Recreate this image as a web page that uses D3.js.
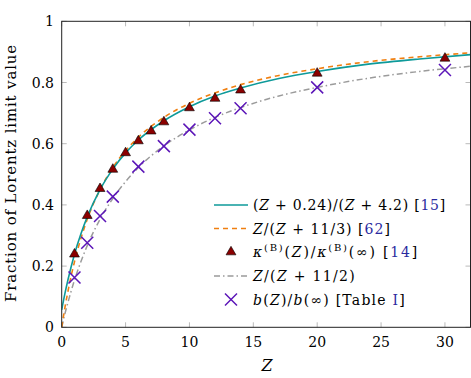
<!DOCTYPE html>
<html>
<head>
<meta charset="utf-8">
<script src="https://cdn.jsdelivr.net/npm/d3@7"></script>
<style>
  body { margin: 0; background: #fff; }
  svg { display: block; font-family: 'DejaVu Serif', 'Liberation Serif', serif; }
</style>
</head>
<body>
<svg id="chart" width="471" height="378"></svg>
<script>
// curve samples
const curveZ = [0, 0.25, 0.5, 1, 1.5, 2, 3, 4, 5, 6, 8, 10, 12, 14, 17, 20, 24, 28, 32];
const tealVals = [0.057, 0.110, 0.157, 0.239, 0.305, 0.361, 0.450, 0.517, 0.570, 0.612, 0.675, 0.721, 0.756, 0.782, 0.813, 0.836, 0.860, 0.877, 0.891];
const orangeVals = [0, 0.064, 0.120, 0.214, 0.290, 0.353, 0.450, 0.522, 0.577, 0.621, 0.686, 0.732, 0.766, 0.793, 0.823, 0.845, 0.868, 0.884, 0.897];
const greyVals = [0, 0.044, 0.083, 0.154, 0.214, 0.267, 0.353, 0.421, 0.476, 0.522, 0.593, 0.645, 0.686, 0.718, 0.756, 0.784, 0.814, 0.836, 0.853];

// markers
const kappaZ = [1, 2, 3, 4, 5, 6, 7, 8, 10, 12, 14, 20, 30];
const kappaVals = [0.239, 0.365, 0.453, 0.516, 0.570, 0.609, 0.641, 0.671, 0.717, 0.748, 0.775, 0.830, 0.879];
const bZ = [1, 2, 3, 4, 6, 8, 10, 12, 14, 20, 30];
const bVals = [0.163, 0.276, 0.364, 0.427, 0.525, 0.592, 0.646, 0.683, 0.716, 0.784, 0.841];

const xTicks = [0, 5, 10, 15, 20, 25, 30];
const yTicks = [0, 0.2, 0.4, 0.6, 0.8, 1];

const svg = d3.select('#chart');
const pLeft = 61.7, pRight = 470.5, pTop = 21.3, pBottom = 327.3;

const x = d3.scaleLinear().domain([0, 32]).range([pLeft, pRight]);
const y = d3.scaleLinear().domain([0, 1]).range([pBottom, pTop]);

// stretch a text to the width it has in the reference
function fitWidth(sel, target) {
  const node = sel.node();
  const n = node.textContent.length;
  if (n < 2) return;
  let ls = 0;
  for (let k = 0; k < 4; k++) {
    const w = node.getBBox().width;
    ls += (target - w) / (n - 1);
    sel.attr('letter-spacing', ls);
  }
}

svg.append('defs').append('clipPath').attr('id', 'plot')
  .append('rect')
  .attr('x', pLeft).attr('y', pTop)
  .attr('width', pRight - pLeft).attr('height', pBottom - pTop);

// Ticks (inside, on all four sides)
const tickLen = 5;
const tickG = svg.append('g').attr('stroke', '#a8a8a8').attr('stroke-width', 0.8);
xTicks.forEach(t => {
  tickG.append('line').attr('x1', x(t)).attr('x2', x(t)).attr('y1', pBottom).attr('y2', pBottom - tickLen);
  tickG.append('line').attr('x1', x(t)).attr('x2', x(t)).attr('y1', pTop).attr('y2', pTop + tickLen);
});
yTicks.forEach(t => {
  tickG.append('line').attr('x1', pLeft).attr('x2', pLeft + tickLen).attr('y1', y(t)).attr('y2', y(t));
  tickG.append('line').attr('x1', pRight).attr('x2', pRight - tickLen).attr('y1', y(t)).attr('y2', y(t));
});

// Tick labels
svg.append('g').selectAll('text').data(xTicks).join('text')
  .attr('x', d => x(d)).attr('y', 347)
  .attr('text-anchor', 'middle')
  .style('font-size', '14px')
  .text(d => d);

svg.append('g').selectAll('text').data(yTicks).join('text')
  .attr('x', 54).attr('y', d => y(d) + 5)
  .attr('text-anchor', 'end')
  .style('font-size', '14px')
  .text(d => d === 0 ? '0' : d === 1 ? '1' : d3.format('.1f')(d));

// Axis labels
const yLabel = svg.append('text')
  .attr('transform', `translate(16,173) rotate(-90)`)
  .attr('text-anchor', 'middle')
  .style('font-size', '15px')
  .text('Fraction of Lorentz limit value');
fitWidth(yLabel, 258);

svg.append('text')
  .attr('x', 267).attr('y', 371)
  .attr('text-anchor', 'middle')
  .style('font-size', '16px')
  .style('font-style', 'italic')
  .text('Z');

// Curves
const plot = svg.append('g').attr('clip-path', 'url(#plot)');
const lineOf = vals => d3.line()
  .x((d, i) => x(curveZ[i]))
  .y(d => y(d))
  .curve(d3.curveMonotoneX)(vals);

plot.append('path').attr('d', lineOf(greyVals))
  .attr('fill', 'none').attr('stroke', '#9b9b9b').attr('stroke-width', 1.5)
  .attr('stroke-dasharray', '6,3,1.5,3');
plot.append('path').attr('d', lineOf(orangeVals))
  .attr('fill', 'none').attr('stroke', '#f07f10').attr('stroke-width', 1.6)
  .attr('stroke-dasharray', '5,4');
plot.append('path').attr('d', lineOf(tealVals))
  .attr('fill', 'none').attr('stroke', '#0e9a9a').attr('stroke-width', 1.6);

// Markers
const tri = d3.symbol().type(d3.symbolTriangle).size(42);
plot.append('g').selectAll('path').data(kappaZ).join('path')
  .attr('transform', (d, i) => `translate(${x(d)},${y(kappaVals[i])})`)
  .attr('d', tri)
  .attr('fill', '#8b0000').attr('stroke', '#000').attr('stroke-width', 0.6);

const cross = s => `M${-s},${-s}L${s},${s}M${-s},${s}L${s},${-s}`;
plot.append('g').selectAll('path').data(bZ).join('path')
  .attr('transform', (d, i) => `translate(${x(d)},${y(bVals[i])})`)
  .attr('d', cross(6))
  .attr('fill', 'none').attr('stroke', '#5c16b8').attr('stroke-width', 1.5);

// Frame
svg.append('rect')
  .attr('x', pLeft).attr('y', pTop)
  .attr('width', pRight - pLeft).attr('height', pBottom - pTop)
  .attr('fill', 'none').attr('stroke', '#222').attr('stroke-width', 1);

// Legend
const blue = '#2a2aa0';
const legend = svg.append('g');
legend.append('rect')
  .attr('x', 209).attr('y', 193).attr('width', 255).attr('height', 117)
  .attr('fill', '#fff');

const rowY = [205, 228.5, 252, 276, 299.5];
const rowW = [193, 139, 167, 104, 153];
const sx0 = 214, sx1 = 248, tx = 253;
const lg = (i) => legend.append('text').attr('x', tx).attr('y', rowY[i] + 5).style('font-size', '14px');

legend.append('line').attr('x1', sx0).attr('x2', sx1).attr('y1', rowY[0]).attr('y2', rowY[0])
  .attr('stroke', '#0e9a9a').attr('stroke-width', 1.6);
let t = lg(0);
t.append('tspan').text('(');
t.append('tspan').style('font-style', 'italic').text('Z');
t.append('tspan').text(' + 0.24)/(');
t.append('tspan').style('font-style', 'italic').text('Z');
t.append('tspan').text(' + 4.2) [');
t.append('tspan').attr('fill', blue).text('15');
t.append('tspan').text(']');
fitWidth(t, rowW[0]);

legend.append('line').attr('x1', sx0).attr('x2', sx1).attr('y1', rowY[1]).attr('y2', rowY[1])
  .attr('stroke', '#f07f10').attr('stroke-width', 1.6).attr('stroke-dasharray', '5,4');
t = lg(1);
t.append('tspan').style('font-style', 'italic').text('Z');
t.append('tspan').text('/(');
t.append('tspan').style('font-style', 'italic').text('Z');
t.append('tspan').text(' + 11/3) [');
t.append('tspan').attr('fill', blue).text('62');
t.append('tspan').text(']');
fitWidth(t, rowW[1]);

legend.append('path').attr('transform', `translate(${(sx0 + sx1) / 2},${rowY[2]})`)
  .attr('d', tri).attr('fill', '#8b0000').attr('stroke', '#000').attr('stroke-width', 0.6);
t = lg(2);
t.append('tspan').style('font-style', 'italic').text('κ');
t.append('tspan').attr('dy', -6).style('font-size', '10px').text('(B)');
t.append('tspan').attr('dy', 6).text('(');
t.append('tspan').style('font-style', 'italic').text('Z');
t.append('tspan').text(')/');
t.append('tspan').style('font-style', 'italic').text('κ');
t.append('tspan').attr('dy', -6).style('font-size', '10px').text('(B)');
t.append('tspan').attr('dy', 6).text('(∞) [');
t.append('tspan').attr('fill', blue).text('14');
t.append('tspan').text(']');
fitWidth(t, rowW[2]);

legend.append('line').attr('x1', sx0).attr('x2', sx1).attr('y1', rowY[3]).attr('y2', rowY[3])
  .attr('stroke', '#9b9b9b').attr('stroke-width', 1.5).attr('stroke-dasharray', '6,3,1.5,3');
t = lg(3);
t.append('tspan').style('font-style', 'italic').text('Z');
t.append('tspan').text('/(');
t.append('tspan').style('font-style', 'italic').text('Z');
t.append('tspan').text(' + 11/2)');
fitWidth(t, rowW[3]);

legend.append('path').attr('transform', `translate(${(sx0 + sx1) / 2},${rowY[4]})`)
  .attr('d', cross(6)).attr('fill', 'none').attr('stroke', '#5c16b8').attr('stroke-width', 1.5);
t = lg(4);
t.append('tspan').style('font-style', 'italic').text('b');
t.append('tspan').text('(');
t.append('tspan').style('font-style', 'italic').text('Z');
t.append('tspan').text(')/');
t.append('tspan').style('font-style', 'italic').text('b');
t.append('tspan').text('(∞) [Table ');
t.append('tspan').attr('fill', blue).text('I');
t.append('tspan').text(']');
fitWidth(t, rowW[4]);
</script>
</body>
</html>
